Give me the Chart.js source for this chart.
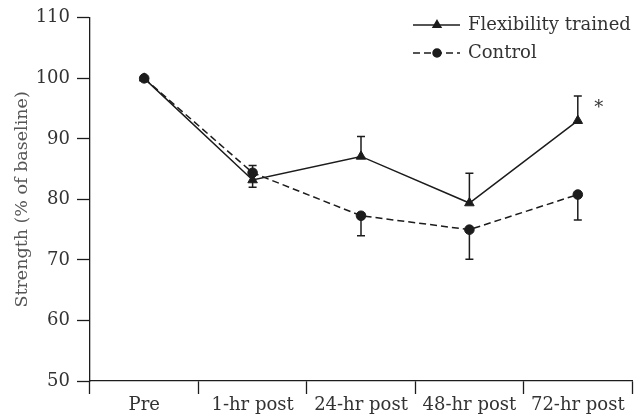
<!DOCTYPE html>
<html>
<head>
<meta charset="utf-8">
<script src="https://cdn.jsdelivr.net/npm/chart.js@4.4.1/dist/chart.umd.min.js"></script>
<style>
  html, body { margin: 0; padding: 0; background: #fff; }
  #wrap { width: 640px; height: 417px; position: relative; }
</style>
</head>
<body>
<div id="wrap"><canvas id="strengthChart"></canvas></div>
<script>
// categories and tick labels
const timepoints = ["Pre", "1-hr post", "24-hr post", "48-hr post", "72-hr post"];
const yTicks = [50, 60, 70, 80, 90, 100, 110];

// series (% of baseline)
const trained = [100, 83.2, 87.1, 79.4, 93.0];
const control = [100, 84.4, 77.3, 75.0, 80.8];

// error bar sizes and which way they are drawn (1 = up, -1 = down, 0 = none)
const trainedErr = [0, 1.2, 3.3, 4.9, 4.1];
const trainedErrDir = [0, -1, 1, 1, 1];
const controlErr = [0, 1.2, 3.3, 4.9, 4.2];
const controlErrDir = [0, 1, -1, -1, -1];

// significance marks
const trainedSig = ["", "", "", "", "*"];

const ink = "#1c1c1c";
const fontFamily = "'DejaVu Serif', serif";

document.addEventListener("DOMContentLoaded", function () {
  // one-sided error bars, drawn under the markers
  const errorBars = {
    id: "errorBars",
    beforeDatasetsDraw(chart) {
      const ctx = chart.ctx;
      const yScale = chart.scales.y;
      ctx.save();
      ctx.strokeStyle = ink;
      ctx.lineWidth = 1.5;
      chart.data.datasets.forEach(function (ds, i) {
        const meta = chart.getDatasetMeta(i);
        meta.data.forEach(function (pt, j) {
          const dir = ds.errDir[j];
          if (!dir) return;
          const yEnd = yScale.getPixelForValue(ds.data[j] + dir * ds.err[j]);
          ctx.beginPath();
          ctx.moveTo(pt.x, pt.y);
          ctx.lineTo(pt.x, yEnd);
          ctx.moveTo(pt.x - 4, yEnd);
          ctx.lineTo(pt.x + 4, yEnd);
          ctx.stroke();
        });
      });
      ctx.restore();
    },
    afterDatasetsDraw(chart) {
      const ctx = chart.ctx;
      ctx.save();
      ctx.fillStyle = "#333";
      ctx.font = "18px " + fontFamily;
      ctx.textAlign = "center";
      ctx.textBaseline = "middle";
      const meta = chart.getDatasetMeta(0);
      meta.data.forEach(function (pt, j) {
        if (trainedSig[j]) ctx.fillText(trainedSig[j], pt.x + 21, pt.y - 12);
      });
      ctx.restore();
    },
  };

  // legend with line sample and marker in the middle
  const lineLegend = {
    id: "lineLegend",
    afterDraw(chart) {
      const ctx = chart.ctx;
      ctx.save();
      chart.data.datasets.forEach(function (ds, i) {
        const y = 25 + i * 28;
        ctx.strokeStyle = ink;
        ctx.lineWidth = 1.5;
        ctx.setLineDash(ds.borderDash || []);
        ctx.beginPath();
        ctx.moveTo(413, y);
        ctx.lineTo(460, y);
        ctx.stroke();
        ctx.setLineDash([]);
        ctx.fillStyle = ink;
        Chart.helpers.drawPoint(ctx, {
          pointStyle: ds.pointStyle,
          radius: ds.pointStyle === "triangle" ? 4.5 : 4,
          borderWidth: 1,
          rotation: 0,
        }, 437, y);
        ctx.fillStyle = "#333";
        ctx.font = "18px " + fontFamily;
        ctx.textAlign = "left";
        ctx.textBaseline = "middle";
        ctx.fillText(ds.label, 468, y);
      });
      ctx.restore();
    },
  };

  const ctx = document.getElementById("strengthChart").getContext("2d");
  const strengthChart = new Chart(ctx, {
    type: "line",
    data: {
      labels: timepoints,
      datasets: [
        {
          label: "Flexibility trained",
          data: trained,
          err: trainedErr,
          errDir: trainedErrDir,
          borderColor: ink,
          borderWidth: 1.5,
          pointStyle: "triangle",
          pointRadius: 5.5,
          pointBackgroundColor: ink,
          pointBorderColor: ink,
          pointBorderWidth: 1,
          tension: 0,
          order: 1,
        },
        {
          label: "Control",
          data: control,
          err: controlErr,
          errDir: controlErrDir,
          borderColor: ink,
          borderWidth: 1.5,
          borderDash: [7, 4],
          pointStyle: "circle",
          pointRadius: 4.8,
          pointBackgroundColor: ink,
          pointBorderColor: ink,
          pointBorderWidth: 1,
          tension: 0,
          order: 0,
        },
      ],
    },
    options: {
      responsive: true,
      maintainAspectRatio: false,
      animation: false,
      layout: {
        padding: { top: 16, right: 8, bottom: 0, left: 0 },
      },
      scales: {
        x: {
          type: "category",
          offset: true,
          grid: {
            offset: true,
            drawOnChartArea: false,
            drawTicks: true,
            tickLength: 13,
            tickColor: ink,
            tickWidth: 1.3,
          },
          border: { display: true, color: ink, width: 1.3 },
          ticks: {
            color: "#333",
            padding: 1,
            maxRotation: 0,
            autoSkip: false,
            font: { family: fontFamily, size: 18 },
          },
          afterFit: function (scale) {
            scale.height = 36;
          },
        },
        y: {
          min: 50,
          max: 110,
          afterBuildTicks: function (scale) {
            scale.ticks = yTicks.map(function (v) {
              return { value: v };
            });
          },
          grid: {
            drawOnChartArea: false,
            drawTicks: true,
            tickLength: 13,
            tickColor: ink,
            tickWidth: 1.3,
          },
          border: { display: true, color: ink, width: 1.3 },
          ticks: {
            color: "#333",
            padding: 7,
            font: { family: fontFamily, size: 18 },
          },
          title: {
            display: true,
            text: "Strength (% of baseline)",
            color: "#555",
            padding: { top: 12, bottom: 0 },
            font: { family: fontFamily, size: 17.5 },
          },
          afterFit: function (scale) {
            scale.width = 90;
          },
        },
      },
      plugins: {
        legend: { display: false },
        tooltip: { enabled: false },
      },
    },
    plugins: [errorBars, lineLegend],
  });
});
</script>
</body>
</html>
